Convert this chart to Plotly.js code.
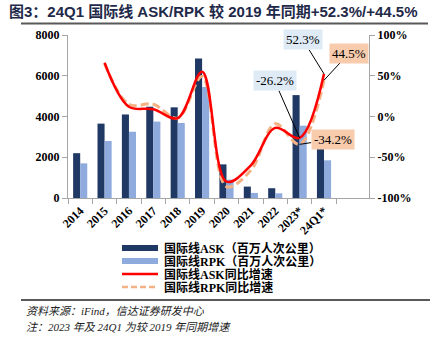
<!DOCTYPE html>
<html><head><meta charset="utf-8">
<script src="https://cdn.plot.ly/plotly-3.0.1.min.js"></script>
<style>html,body{margin:0;padding:0;background:#fff}#chart{width:437px;height:351px}</style>
</head><body><div id="chart"></div>
<script>
const categories = ["2014","2015","2016","2017","2018","2019","2020","2021","2022","2023*","24Q1*"];
const askValues = [2200,3650,4100,4480,4450,6850,1650,560,480,5050,2450];
const rpkValues = [1700,2800,3250,3750,3680,5450,900,250,230,3550,1850];
const askGrowth = [null,66,12,9,-2,55,-80,-60,-14,-26.2,52.3];
const rpkGrowth = [null,65,15,15,-2,49,-86,-66,-9,-34.2,44.5];
const rightTickVals = [-100,-50,0,50,100];
const rightTickText = ["-100%","-50%","0%","50%","100%"];
const seriesNames = ["国际线ASK（百万人次公里）","国际线RPK（百万人次公里）","国际线ASK同比增速","国际线RPK同比增速"];

const W=437,H=351, L=68, R=369, T=35, B=198;
const px=x=>(x-L)/(R-L);
const py=y=>(B-y)/(B-T);
const serif="Liberation Serif, 'Times New Roman', serif";
const cjk="'Liberation Serif', 'Noto Sans CJK SC', serif";
const tickFont={family:serif,size:12,color:"#000",weight:"bold"};

const traces=[
 {type:"bar",x:categories,y:askValues,name:seriesNames[0],marker:{color:"#1f3864"},showlegend:false},
 {type:"bar",x:categories,y:rpkValues,name:seriesNames[1],marker:{color:"#8faadc"},showlegend:false},
 {type:"scatter",mode:"lines",x:categories,y:rpkGrowth,yaxis:"y2",name:seriesNames[3],line:{color:"#f4b183",width:3,dash:"8px,4px",shape:"spline",smoothing:1},showlegend:false,connectgaps:false},
 {type:"scatter",mode:"lines",x:categories,y:askGrowth,yaxis:"y2",name:seriesNames[2],line:{color:"#ff0000",width:2.5,shape:"spline",smoothing:1},showlegend:false,connectgaps:false}
];

const shapes=[
 {type:"line",xref:"paper",yref:"paper",x0:px(21),x1:px(428),y0:py(23.5),y1:py(23.5),line:{color:"#595959",width:2}},
 {type:"line",xref:"paper",yref:"paper",x0:px(21),x1:px(430),y0:py(300),y1:py(300),line:{color:"#595959",width:2}}
];
const annotations=[];
// custom legend
const legRows=[248,261,274,287];
const legStyles=[
 {kind:"rect",color:"#1f3864"},{kind:"rect",color:"#8faadc"},
 {kind:"line",color:"#ff0000",dash:"solid"},{kind:"line",color:"#f4b183",dash:"6px,3px"}];
legRows.forEach((y,i)=>{
  const s=legStyles[i];
  if(s.kind==="rect") shapes.push({type:"rect",xref:"paper",yref:"paper",x0:px(122),x1:px(158),y0:py(y-3),y1:py(y+3),fillcolor:s.color,line:{width:0}});
  else shapes.push({type:"line",xref:"paper",yref:"paper",x0:px(122),x1:px(158),y0:py(y),y1:py(y),line:{color:s.color,width:2.5,dash:s.dash}});
  annotations.push({xref:"paper",yref:"paper",x:px(162),y:py(y),xanchor:"left",yanchor:"middle",showarrow:false,text:seriesNames[i],font:{family:cjk,size:12,color:"#000",weight:"bold"}});
});
// footer
annotations.push({xref:"paper",yref:"paper",x:px(24),y:py(311),xanchor:"left",yanchor:"middle",showarrow:false,text:"<i>资料来源：iFind，信达证券研发中心</i>",font:{family:cjk,size:11,color:"#222"}});
annotations.push({xref:"paper",yref:"paper",x:px(24),y:py(327),xanchor:"left",yanchor:"middle",showarrow:false,text:"<i>注：2023 年及 24Q1 为较 2019 年同期增速</i>",font:{family:cjk,size:11,color:"#222"}});
// data labels
const lab=(x,y,txt,bg,ax,ay)=>({x:x,y:y,xref:"x",yref:"y2",text:txt,showarrow:true,arrowhead:0,arrowwidth:1,arrowcolor:"#000",ax:ax,ay:ay,bgcolor:bg,borderpad:2,font:{family:serif,size:13,color:"#000"}});
annotations.push(lab(categories[10],askGrowth[10],askGrowth[10].toFixed(1)+"%","#deebf7",-21,-34));
annotations.push(lab(categories[10],rpkGrowth[10],rpkGrowth[10].toFixed(1)+"%","#f8cbad",25,-27));
annotations.push(lab(categories[9],askGrowth[9],askGrowth[9].toFixed(1)+"%","#deebf7",-25,-57));
annotations.push(lab(categories[9],rpkGrowth[9],rpkGrowth[9].toFixed(1)+"%","#f8cbad",33,-5));

const layout={
 width:W,height:H,margin:{l:L,r:W-R,t:T,b:H-B},
 paper_bgcolor:"#fff",plot_bgcolor:"#fff",
 title:{text:"<b>图3：24Q1 国际线 ASK/RPK 较 2019 年同期+52.3%/+44.5%</b>",x:9/W,xanchor:"left",xref:"container",y:1-12/H,yref:"container",yanchor:"middle",font:{family:"'Liberation Sans','Noto Sans CJK SC',sans-serif",size:15,color:"#1f2a4a"}},
 barmode:"group",bargap:0.42,bargroupgap:0,
 showlegend:false,
 xaxis:{type:"category",tickangle:-45,tickfont:tickFont,showline:true,linecolor:"#a6a6a6",linewidth:1,ticks:"outside",tickson:"boundaries",ticklen:5,tickcolor:"#a6a6a6",showgrid:false,zeroline:false},
 yaxis:{range:[0,8000],dtick:2000,tickfont:tickFont,showline:true,linecolor:"#a6a6a6",ticks:"outside",ticklen:5,tickcolor:"#a6a6a6",showgrid:false,zeroline:false},
 yaxis2:{overlaying:"y",side:"right",range:[-100,100],tickmode:"array",tickvals:rightTickVals,ticktext:rightTickText,tickfont:tickFont,showline:true,linecolor:"#a6a6a6",ticks:"outside",ticklen:5,tickcolor:"#a6a6a6",showgrid:false,zeroline:false},
 shapes:shapes,annotations:annotations
};
Plotly.newPlot("chart",traces,layout,{staticPlot:true,displayModeBar:false});
</script></body></html>
